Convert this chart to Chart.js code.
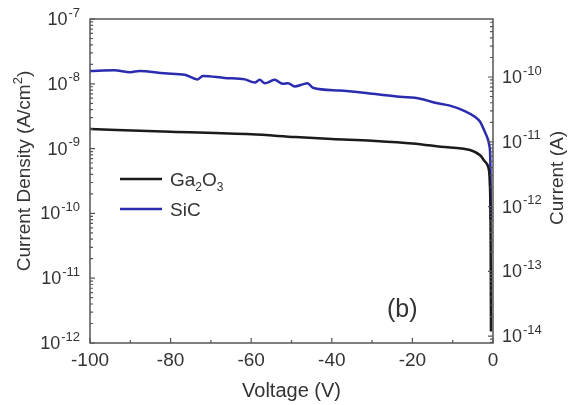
<!DOCTYPE html>
<html>
<head>
<meta charset="utf-8">
<script src="https://cdn.jsdelivr.net/npm/chart.js@4/dist/chart.umd.min.js"></script>
<style>
  html, body { margin: 0; padding: 0; background: #fff; }
  #wrap { width: 577px; height: 405px; }
</style>
</head>
<body>
<div id="wrap"><canvas id="chart" width="577" height="405"></canvas></div>
<script>
// Data (current density, A/cm^2)
const ga2o3Voltage = [-100, -80, -60, -49, -40, -30, -20, -13, -5.7, -3.2, -2.0, -1.2, -0.8, -0.6, -0.55, -0.5];
const ga2o3Density = [2.0e-9, 1.82e-9, 1.66e-9, 1.51e-9, 1.41e-9, 1.32e-9, 1.2e-9, 1.07e-9, 9.5e-10, 7.9e-10, 6.3e-10, 5.2e-10, 3.0e-10, 6e-11, 1e-11, 1.5e-12];

const sicVoltage = [-100, -94, -90, -87.7, -81.5, -76.5, -73.3, -72, -66.6, -61.6, -59.1, -57.9, -56.6, -54.2, -52.2, -50.9,
  -49.2, -47.2, -46, -44.7, -38, -30.6, -23.1, -18.1, -14.4, -10.7, -7.0, -4.5, -3.2, -2.0, -1.2, -0.9, -0.7, -0.6, -0.55];
const sicDensity = [1.58e-8, 1.62e-8, 1.51e-8, 1.58e-8, 1.45e-8, 1.38e-8, 1.17e-8, 1.32e-8, 1.23e-8, 1.17e-8, 1.05e-8, 1.15e-8, 1.02e-8, 1.15e-8, 1.0e-8, 1.02e-8,
  9.1e-9, 9.8e-9, 1.02e-8, 8.7e-9, 7.9e-9, 7.1e-9, 6.3e-9, 5.9e-9, 5.1e-9, 4.6e-9, 3.8e-9, 3.1e-9, 2.6e-9, 1.8e-9, 1.35e-9, 1.1e-9, 8e-10, 3e-10, 8e-11];

const xTicks = [-100, -80, -60, -40, -20, 0];
const xMinorTicks = [-90, -70, -50, -30, -10];
const densityExps = [-12, -11, -10, -9, -8, -7];
const currentExps = [-14, -13, -12, -11, -10];
const deviceArea = 7.85e-3; // cm^2, links the two y axes

const FONT = '"Liberation Sans", Arial, sans-serif';
const TEXT = '#333';
const AXIS = '#555';

function toPoints(xs, ys) {
  return xs.map((x, i) => ({ x: x, y: ys[i] }));
}

// "10" with a raised exponent, like the labels in the figure
function drawPow(ctx, exp, x, y, align) {
  ctx.save();
  ctx.textBaseline = 'middle';
  ctx.textAlign = 'left';
  ctx.font = '18px ' + FONT;
  const baseW = ctx.measureText('10').width;
  ctx.font = '13px ' + FONT;
  const expText = '-' + Math.abs(exp);
  const expW = ctx.measureText(expText).width;
  const left = align === 'right' ? x - baseW - expW - 1 : x;
  ctx.fillStyle = TEXT;
  ctx.font = '18px ' + FONT;
  ctx.fillText('10', left, y + 1);
  ctx.font = '13px ' + FONT;
  ctx.fillText(expText, left + baseW + 1, y - 6);
  ctx.restore();
}

const framePlugin = {
  id: 'frame',
  afterDraw(chart) {
    const ctx = chart.ctx;
    const a = chart.chartArea;
    const xs = chart.scales.x;
    const yl = chart.scales.y;
    const yr = chart.scales.y2;

    ctx.save();
    ctx.strokeStyle = AXIS;
    ctx.lineWidth = 1.5;
    ctx.strokeRect(a.left, a.top, a.right - a.left, a.bottom - a.top);

    ctx.lineWidth = 1.2;
    ctx.beginPath();
    // bottom ticks, pointing in
    xTicks.forEach(v => {
      const px = xs.getPixelForValue(v);
      ctx.moveTo(px, a.bottom); ctx.lineTo(px, a.bottom - 5);
    });
    xMinorTicks.forEach(v => {
      const px = xs.getPixelForValue(v);
      ctx.moveTo(px, a.bottom); ctx.lineTo(px, a.bottom - 3);
    });
    // left log ticks
    densityExps.forEach(e => {
      const py = yl.getPixelForValue(Math.pow(10, e));
      ctx.moveTo(a.left, py); ctx.lineTo(a.left + 5, py);
      if (e < -7) {
        for (let m = 2; m <= 9; m++) {
          const pm = yl.getPixelForValue(m * Math.pow(10, e));
          ctx.moveTo(a.left, pm); ctx.lineTo(a.left + 3, pm);
        }
      }
    });
    // right log ticks
    for (let e = -15; e <= -10; e++) {
      const py = yr.getPixelForValue(Math.pow(10, e));
      if (py >= a.top && py <= a.bottom) {
        ctx.moveTo(a.right, py); ctx.lineTo(a.right - 5, py);
      }
      for (let m = 2; m <= 9; m++) {
        const pm = yr.getPixelForValue(m * Math.pow(10, e));
        if (pm >= a.top && pm <= a.bottom) {
          ctx.moveTo(a.right, pm); ctx.lineTo(a.right - 3, pm);
        }
      }
    }
    ctx.stroke();

    // tick labels
    densityExps.forEach(e => drawPow(ctx, e, a.left - 10, yl.getPixelForValue(Math.pow(10, e)), 'right'));
    currentExps.forEach(e => drawPow(ctx, e, a.right + 9, yr.getPixelForValue(Math.pow(10, e)), 'left'));

    ctx.fillStyle = TEXT;
    ctx.font = '19px ' + FONT;
    ctx.textAlign = 'center';
    ctx.textBaseline = 'middle';
    xTicks.forEach(v => ctx.fillText(String(v), xs.getPixelForValue(v), a.bottom + 18));

    // axis titles
    ctx.font = '20px ' + FONT;
    ctx.fillText('Voltage (V)', (a.left + a.right) / 2, a.bottom + 48);

    ctx.save();
    ctx.translate(25, (a.top + a.bottom) / 2 - 10);
    ctx.rotate(-Math.PI / 2);
    ctx.font = '19px ' + FONT;
    const t1 = 'Current Density (A/cm';
    const w1 = ctx.measureText(t1).width;
    ctx.font = '13px ' + FONT;
    const w2 = ctx.measureText('2').width;
    ctx.font = '19px ' + FONT;
    const w3 = ctx.measureText(')').width;
    let sx = -(w1 + w2 + w3) / 2;
    ctx.textAlign = 'left';
    ctx.fillText(t1, sx, 0);
    ctx.font = '13px ' + FONT;
    ctx.fillText('2', sx + w1, -7);
    ctx.font = '19px ' + FONT;
    ctx.fillText(')', sx + w1 + w2, 0);
    ctx.restore();

    ctx.save();
    ctx.translate(558, (a.top + a.bottom) / 2 - 3);
    ctx.rotate(-Math.PI / 2);
    ctx.textAlign = 'center';
    ctx.font = '19px ' + FONT;
    ctx.fillText('Current (A)', 0, 0);
    ctx.restore();

    // legend
    const legend = [
      { color: chart.data.datasets[0].borderColor, parts: [['Ga', 0], ['2', 1], ['O', 0], ['3', 1]], y: a.top + 160 },
      { color: chart.data.datasets[1].borderColor, parts: [['SiC', 0]], y: a.top + 190 }
    ];
    legend.forEach(item => {
      ctx.strokeStyle = item.color;
      ctx.lineWidth = 2.5;
      ctx.beginPath();
      ctx.moveTo(a.left + 30, item.y); ctx.lineTo(a.left + 72, item.y);
      ctx.stroke();
      let tx = a.left + 80;
      ctx.textAlign = 'left';
      item.parts.forEach(([txt, sub]) => {
        ctx.font = (sub ? '12px ' : '19px ') + FONT;
        ctx.fillText(txt, tx, item.y + 2 + (sub ? 7 : 0));
        tx += ctx.measureText(txt).width;
      });
    });

    ctx.font = '25px ' + FONT;
    ctx.textAlign = 'center';
    ctx.fillText('(b)', xs.getPixelForValue(-22.5), yl.getPixelForValue(3.2e-12));
    ctx.restore();
  }
};

new Chart(document.getElementById('chart'), {
  type: 'line',
  data: {
    datasets: [
      {
        label: 'Ga2O3',
        data: toPoints(ga2o3Voltage, ga2o3Density),
        borderColor: '#1b1b1b',
        borderWidth: 2.5,
        pointRadius: 0,
        cubicInterpolationMode: 'monotone',
        yAxisID: 'y'
      },
      {
        label: 'SiC',
        data: toPoints(sicVoltage, sicDensity),
        borderColor: '#2b2bb0',
        borderWidth: 2.5,
        pointRadius: 0,
        cubicInterpolationMode: 'monotone',
        yAxisID: 'y'
      }
    ]
  },
  options: {
    responsive: false,
    animation: false,
    layout: { padding: { left: 90, right: 84, top: 19, bottom: 62 } },
    plugins: { legend: { display: false }, tooltip: { enabled: false } },
    scales: {
      x: { type: 'linear', min: -100, max: 0, display: false },
      y: { type: 'logarithmic', min: 1e-12, max: 1e-7, display: false },
      y2: { type: 'logarithmic', min: 1e-12 * deviceArea, max: 1e-7 * deviceArea, display: false, position: 'right' }
    }
  },
  plugins: [framePlugin]
});
</script>
</body>
</html>
